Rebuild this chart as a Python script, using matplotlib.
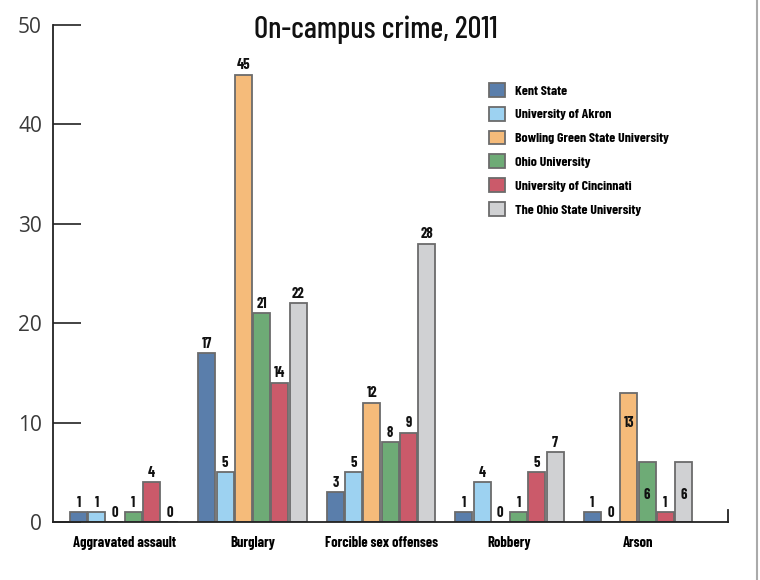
import matplotlib
matplotlib.use("Agg")
import matplotlib.pyplot as plt
import numpy as np
from matplotlib import font_manager
from matplotlib.font_manager import FontProperties

categories = ["Aggravated assault", "Burglary", "Forcible sex offenses", "Robbery", "Arson"]
schools = ["Kent State", "University of Akron", "Bowling Green State University",
           "Ohio University", "University of Cincinnati", "The Ohio State University"]
kent = [1, 17, 3, 1, 1]
akron = [1, 5, 5, 4, 0]
bowling = [0, 45, 12, 0, 13]
ohio = [1, 21, 8, 1, 6]
cincinnati = [4, 14, 9, 5, 1]
osu = [0, 22, 28, 7, 6]
series = [kent, akron, bowling, ohio, cincinnati, osu]
yticks = [0, 10, 20, 30, 40, 50]

colors = ["#5a7eab", "#9dd2f1", "#f5bb7a", "#6eab76", "#cb5a6a", "#d0d1d3"]


def pick(families, weight):
    for fam in families:
        try:
            prop = FontProperties(family=fam, weight=weight)
            path = font_manager.findfont(prop, fallback_to_default=False)
            return path
        except Exception:
            continue
    return font_manager.findfont(FontProperties(family="DejaVu Sans", weight="bold"))


cond_fams = ["Barlow Condensed", "Asap Condensed", "Encode Sans Condensed", "DejaVu Sans"]
f_lab = pick(cond_fams, 700)
f_title = pick(cond_fams, 500)


def fp(size, path):
    return FontProperties(fname=path, size=size)


fig = plt.figure(figsize=(7.6, 5.8), dpi=100)
ax = fig.add_axes([53/760, 1-522/580, (728-53)/760, (522-25)/580])

x = np.arange(len(categories))
step = 0.142
width = 0.132
for i, (vals, c, name) in enumerate(zip(series, colors, schools)):
    pos = x + (i - 2.5) * step
    ax.bar(pos, vals, width=width, color=c, edgecolor="#6b6b6b", linewidth=1.3, label=name, zorder=2)
    for j, (p, v) in enumerate(zip(pos, vals)):
        inside = (j == 4 and i in (2, 3, 5))
        if inside:
            yv = 10.0 if v == 13 else 2.7
            ax.text(p, yv, str(v), ha="center", va="center", fontproperties=fp(10.5, f_lab),
                    color="#111111", zorder=3)
        else:
            ax.text(p, v + 0.25, str(v), ha="center", va="bottom", fontproperties=fp(10.5, f_lab),
                    color="#111111", zorder=3)

ax.set_xlim(-0.553, 4.70)
ax.set_ylim(0, 50)
ax.set_yticks(yticks)
ax.set_yticklabels([str(t) for t in yticks], fontsize=15, color="#3a3a3a", family="Open Sans")
ax.tick_params(axis="y", direction="in", length=20, width=1.2, color="#222222", pad=8)
ax.set_xticks(x)
ax.set_xticklabels(categories)
for lbl in ax.get_xticklabels():
    lbl.set_fontproperties(fp(10.5, f_lab))
ax.tick_params(axis="x", length=0, pad=10)
for s in ["top", "right"]:
    ax.spines[s].set_visible(False)
ax.spines["left"].set_linewidth(1.3)
ax.spines["bottom"].set_linewidth(1.3)
ax.spines["left"].set_color("#222222")
ax.spines["bottom"].set_color("#222222")
ax.plot([1, 1], [0, 0.025], transform=ax.transAxes, color="#222222", lw=1.3, clip_on=False)

fig.text(376/760, 1-30/580, "On-campus crime, 2011", ha="center", va="center",
         fontproperties=fp(22, f_title), color="#111111")

leg = ax.legend(loc="upper left", bbox_to_anchor=(489/760, 1-83/580), bbox_transform=fig.transFigure,
                frameon=False, prop=fp(10, f_lab),
                handlelength=1.15, handleheight=1.15, labelspacing=0.72, handletextpad=0.75,
                borderaxespad=0, borderpad=0)

fig.add_artist(plt.Line2D([757/760, 757/760], [0, 1], transform=fig.transFigure, color="#aaaaaa", lw=1.5))

fig.savefig("out.png", dpi=100, facecolor="white")
